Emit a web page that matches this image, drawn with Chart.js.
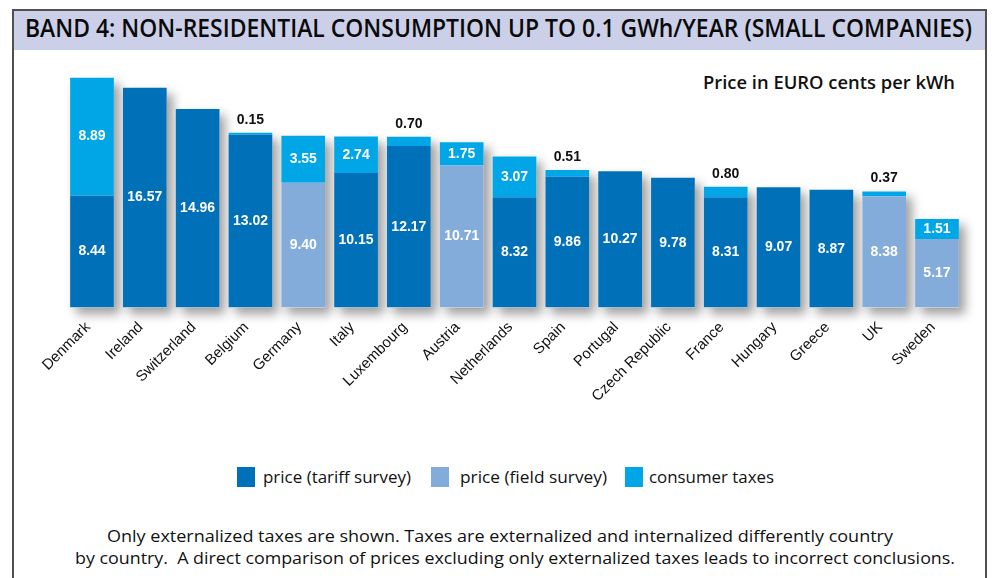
<!DOCTYPE html>
<html>
<head>
<meta charset="utf-8">
<script src="https://cdn.jsdelivr.net/npm/chart.js@4/dist/chart.umd.min.js"></script>
<style>
  html, body { margin: 0; padding: 0; background: #fff; }
  body { width: 993px; height: 578px; position: relative; overflow: hidden; font-family: "Open Sans", sans-serif; color: #111; }
  #frame { position: absolute; left: 12px; top: 9px; width: 971px; height: 620px; border: 2px solid #505050; border-bottom: none; }
  #band { position: absolute; left: 14px; top: 11px; width: 971px; height: 39px; background: #cbd0e8; }
  .txt { position: absolute; white-space: nowrap; line-height: 1; transform-origin: 0 0; }
  #title { font-weight: 600; font-size: 24.6px; color: #0a0a0a; }
  #unit { font-weight: 600; font-size: 17.5px; }
  .leg { font-size: 17px; }
  .foot { font-size: 16.8px; }
  .box { position: absolute; width: 18px; height: 20px; }
  canvas { position: absolute; left: 0; top: 0; }
</style>
</head>
<body>
<div id="frame"></div>
<div id="band"></div>
<span class="txt fit" id="title" data-x="25" data-base="38.3" data-w="947">BAND 4: NON-RESIDENTIAL CONSUMPTION UP TO 0.1 GWh/YEAR (SMALL COMPANIES)</span>
<span class="txt fit" id="unit" data-x="703" data-base="90" data-w="252">Price in EURO cents per kWh</span>

<div class="box" style="left:237px;top:467px;background:#0070b8"></div>
<span class="txt fit leg" data-x="262.7" data-base="483" data-w="148">price (tariff survey)</span>
<div class="box" style="left:431px;top:467px;background:#84acda"></div>
<span class="txt fit leg" data-x="460.4" data-base="483" data-w="147">price (field survey)</span>
<div class="box" style="left:625px;top:467px;background:#00a6e6"></div>
<span class="txt fit leg" data-x="648.7" data-base="483" data-w="125">consumer taxes</span>

<span class="txt fit foot" data-x="106.7" data-base="543.3" data-w="786">Only externalized taxes are shown. Taxes are externalized and internalized differently country</span>
<span class="txt fit foot" data-x="75" data-base="565" data-w="880">by country.&nbsp; A direct comparison of prices excluding only externalized taxes leads to incorrect conclusions.</span>

<canvas id="chart" width="993" height="578"></canvas>

<script>
const categories = ["Denmark", "Ireland", "Switzerland", "Belgium", "Germany", "Italy", "Luxembourg", "Austria",
  "Netherlands", "Spain", "Portugal", "Czech Republic", "France", "Hungary", "Greece", "UK", "Sweden"];
const tariffPrice = [8.44, 16.57, 14.96, 13.02, null, 10.15, 12.17, null, 8.32, 9.86, 10.27, 9.78, 8.31, 9.07, 8.87, null, null];
const fieldPrice = [null, null, null, null, 9.40, null, null, 10.71, null, null, null, null, null, null, null, 8.38, 5.17];
const consumerTaxes = [8.89, null, null, 0.15, 3.55, 2.74, 0.70, 1.75, 3.07, 0.51, null, null, 0.80, null, null, 0.37, 1.51];

const COLORS = { tariff: "#0070b8", field: "#84acda", taxes: "#00a6e6" };

// place html texts on their baseline and stretch them to the measured width
document.querySelectorAll(".fit").forEach((el) => {
  const fs = parseFloat(getComputedStyle(el).fontSize);
  el.style.left = el.dataset.x + "px";
  el.style.top = (parseFloat(el.dataset.base) - fs * 0.888) + "px";
  const w = el.getBoundingClientRect().width;
  el.style.transform = `scaleX(${parseFloat(el.dataset.w) / w})`;
});

const barShadow = {
  id: "barShadow",
  beforeDatasetsDraw(chart) {
    const ctx = chart.ctx;
    ctx.save();
    ctx.shadowColor = "rgba(0,0,0,0.38)";
    ctx.shadowBlur = 10;
    ctx.shadowOffsetX = 6;
    ctx.shadowOffsetY = 6;
    ctx.fillStyle = "#ffffff";
    categories.forEach((_, i) => {
      let top = Infinity, base = -Infinity, x = 0, width = 0;
      chart.data.datasets.forEach((ds, d) => {
        if (ds.data[i] == null) return;
        const el = chart.getDatasetMeta(d).data[i];
        top = Math.min(top, el.y);
        base = Math.max(base, el.base);
        x = el.x;
        width = el.width;
      });
      if (top === Infinity) return;
      ctx.fillRect(x - width / 2, top, width, base - top);
    });
    ctx.restore();
  },
};

const valueLabels = {
  id: "valueLabels",
  afterDatasetsDraw(chart) {
    const ctx = chart.ctx;
    ctx.save();
    ctx.font = "bold 14px 'Liberation Sans', Arial, sans-serif";
    ctx.textAlign = "center";
    ctx.textBaseline = "middle";
    chart.data.datasets.forEach((ds, d) => {
      chart.getDatasetMeta(d).data.forEach((el, i) => {
        const v = ds.data[i];
        if (v == null) return;
        if (v < 1) {
          ctx.fillStyle = "#111111";
          ctx.fillText(v.toFixed(2), el.x, el.y - 13);
        } else {
          ctx.fillStyle = "#ffffff";
          ctx.fillText(v.toFixed(2), el.x, (el.y + el.base) / 2);
        }
      });
    });
    ctx.restore();
  },
};

new Chart(document.getElementById("chart"), {
  type: "bar",
  data: {
    labels: categories,
    datasets: [
      { label: "price (tariff survey)", data: tariffPrice, backgroundColor: COLORS.tariff },
      { label: "price (field survey)", data: fieldPrice, backgroundColor: COLORS.field },
      { label: "consumer taxes", data: consumerTaxes, backgroundColor: COLORS.taxes },
    ],
  },
  options: {
    responsive: false,
    animation: false,
    devicePixelRatio: 1,
    layout: { padding: { left: 65.6, right: 29.6, top: 68.8, bottom: 150.5 } },
    datasets: { bar: { barPercentage: 0.828, categoryPercentage: 1, borderWidth: 0 } },
    scales: {
      x: {
        stacked: true,
        grid: { display: false, drawTicks: false },
        border: { display: false },
        ticks: {
          autoSkip: false,
          minRotation: 45,
          maxRotation: 45,
          padding: 11,
          labelOffset: -4,
          color: "#111111",
          font: { family: "'Liberation Sans', Arial, sans-serif", size: 15 },
        },
        afterFit(axis) { axis.height = 120; },
      },
      y: { stacked: true, display: false, min: 0, max: 18 },
    },
    plugins: {
      legend: { display: false },
      tooltip: { enabled: false },
    },
  },
  plugins: [barShadow, valueLabels],
});
</script>
</body>
</html>
